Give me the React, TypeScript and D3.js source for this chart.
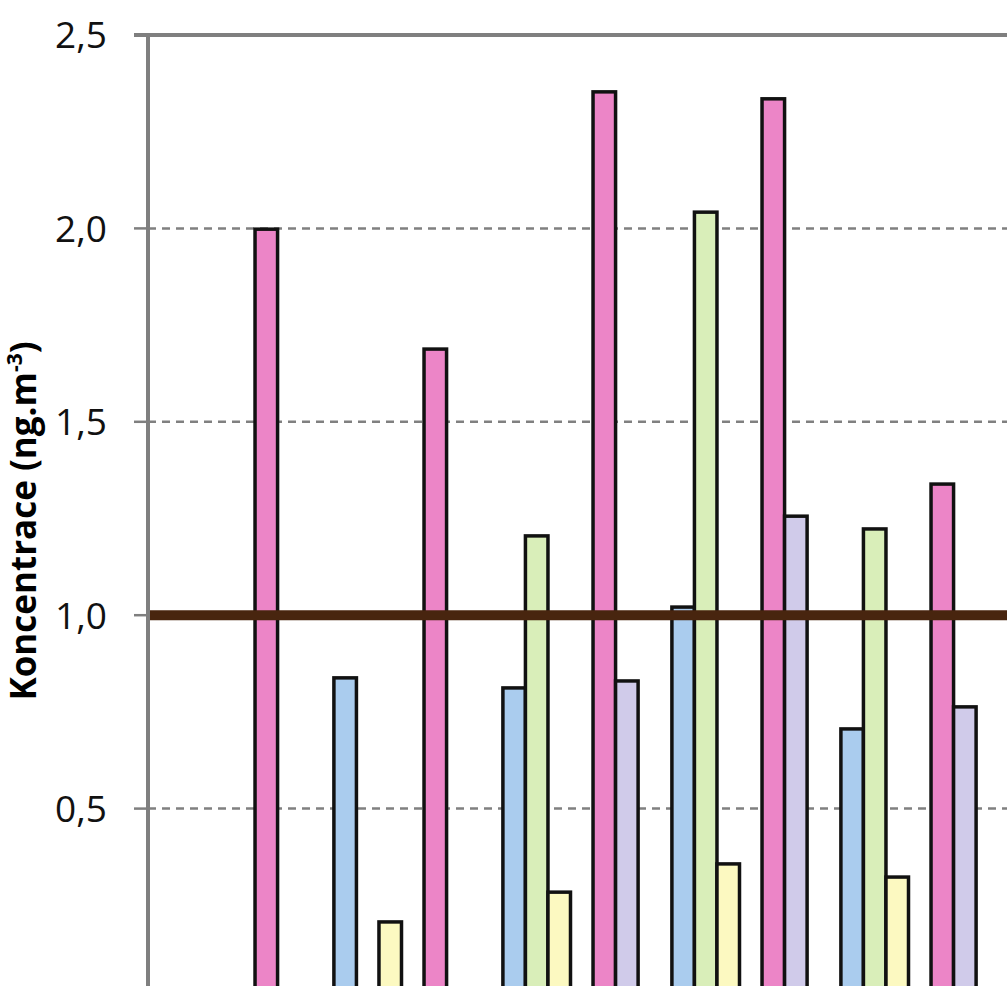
import React from "react";
import * as d3 from "d3";

// ---- data ----
const categories = ["1", "2", "3", "4", "5"];
const seriesKeys = ["blue", "green", "yellow", "other", "pink", "lavender"];
const seriesColors = ["#AACCEE", "#D9EEB9", "#FCF9C1", "#7F7F7F", "#EC85C7", "#D0CBEA"];
const blueValues: (number | null)[] = [null, 0.838, 0.812, 1.021, 0.706];
const greenValues: (number | null)[] = [null, null, 1.205, 2.042, 1.223];
const yellowValues: (number | null)[] = [null, 0.207, 0.284, 0.357, 0.323];
const otherValues: (number | null)[] = [null, null, null, null, null];
const pinkValues: (number | null)[] = [1.998, 1.688, 2.353, 2.335, 1.339];
const lavenderValues: (number | null)[] = [null, null, 0.83, 1.256, 0.763];
const limitValue = 1.0;
const yTicks = [0.5, 1.0, 1.5, 2.0, 2.5];
const yTitle = "Koncentrace (ng.m";
const yTitleSup = "-3";

const seriesValues = [blueValues, greenValues, yellowValues, otherValues, pinkValues, lavenderValues];

const W = 1007;
const H = 986;
const left = 148;
const top = 35;
const groupStep = 169;

export default function App() {
  const y = d3.scaleLinear().domain([0, 2.5]).range([top + 5 * 193.4, top]);
  const x0 = d3
    .scaleBand<string>()
    .domain(categories)
    .range([left, left + groupStep * categories.length])
    .paddingInner(0.2)
    .paddingOuter(0.1);
  const x1 = d3.scaleBand<string>().domain(seriesKeys).range([0, x0.bandwidth()]).padding(0);
  const fmt = d3.formatLocale({ decimal: ",", thousands: " ", grouping: [3], currency: ["", ""] }).format(".1f");
  const right = W + 20;

  return (
    <svg
      width={W}
      height={H}
      style={{ position: "absolute", left: 0, top: 0, display: "block", background: "#fff" }}
    >
      {/* gridlines */}
      {yTicks
        .filter((t) => t < 2.5)
        .map((t) => (
          <line
            key={"g" + t}
            x1={left}
            x2={right}
            y1={y(t)}
            y2={y(t)}
            stroke="#808080"
            strokeWidth={2.5}
            strokeDasharray="8,6"
          />
        ))}
      {/* bars */}
      {categories.map((c, ci) => (
        <g key={c} transform={`translate(${x0(c)},0)`}>
          {seriesKeys.map((k, si) => {
            const v = seriesValues[si][ci];
            if (v == null) return null;
            return (
              <rect
                key={k}
                x={x1(k)}
                y={y(v)}
                width={x1.bandwidth()}
                height={y(0) - y(v)}
                fill={seriesColors[si]}
                stroke="#111"
                strokeWidth={3.5}
              />
            );
          })}
        </g>
      ))}
      {/* limit line */}
      <line x1={left} x2={right} y1={y(limitValue)} y2={y(limitValue)} stroke="#48250F" strokeWidth={10} />
      {/* top border */}
      <line x1={left - 14} x2={right} y1={top} y2={top} stroke="#7F7F7F" strokeWidth={4} />
      {/* y axis */}
      <line x1={left} x2={left} y1={top} y2={y(0) + 20} stroke="#7F7F7F" strokeWidth={4} />
      {yTicks.map((t) => (
        <g key={"t" + t}>
          <line x1={left - 14} x2={left} y1={y(t)} y2={y(t)} stroke="#7F7F7F" strokeWidth={2.5} />
          <text
            x={107}
            y={y(t)}
            dy="0.36em"
            textAnchor="end"
            fontFamily="'Open Sans', sans-serif"
            fontSize={37}
            fill="#111"
          >
            {fmt(t)}
          </text>
        </g>
      ))}
      {/* y title */}
      <text
        transform={`translate(36,521) rotate(-90)`}
        textAnchor="middle"
        fontFamily="'Open Sans', sans-serif"
        fontWeight="bold"
        fontSize={35}
        fill="#000"
      >
        {yTitle}
        <tspan fontSize={21} dy={-14}>
          {yTitleSup}
        </tspan>
        <tspan dy={14}>)</tspan>
      </text>
    </svg>
  );
}
